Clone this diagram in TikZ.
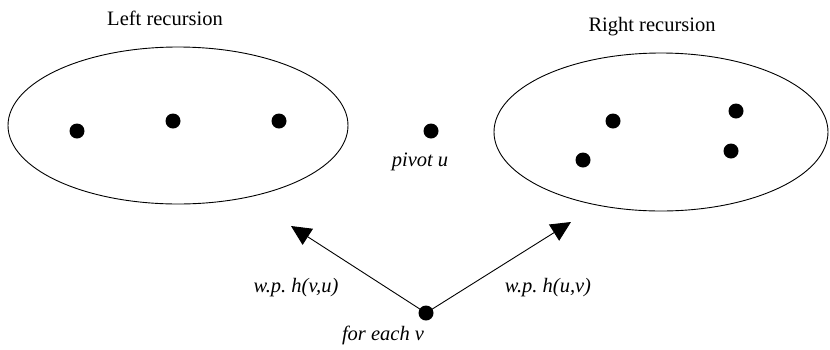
\documentclass[tikz,border=0pt]{standalone}
\usepackage{fontspec}
\setmainfont{Liberation Serif}
\usetikzlibrary{shapes.geometric,arrows.meta}
\frenchspacing
\begin{document}
\begin{tikzpicture}[x=1pt,y=-1pt,
  dot/.style={circle,fill=black,inner sep=0pt,minimum size=15pt},
  setshape/.style={ellipse,draw,line width=0.9pt,inner sep=0pt},
  lbl/.style={font=\fontsize{20.5}{24}\selectfont,inner sep=0pt},
  ilbl/.style={font=\fontsize{20.5}{24}\selectfont\itshape,inner sep=0pt},
  arr/.style={line width=0.9pt,-{Triangle[length=20pt,width=19pt]}}]
\useasboundingbox (0,0) rectangle (830,349);
\node[setshape,minimum width=340pt,minimum height=157pt] (L) at (178,125.5) {};
\node[setshape,minimum width=334pt,minimum height=158pt] (R) at (661,132) {};
\node[lbl] (lt) at (165,18) {Left recursion};
\node[lbl] (rt) at (652,27) {Right recursion};
\node[dot] (l1) at (77,131) {};
\node[dot] (l2) at (173,121) {};
\node[dot] (l3) at (279,121) {};
\node[dot] (p) at (431,131) {};
\node[ilbl] (pt) at (420,162) {pivot u};
\node[dot] (r1) at (613,121) {};
\node[dot] (r2) at (736,111) {};
\node[dot] (r3) at (583,160) {};
\node[dot] (r4) at (731,151) {};
\node[dot] (v) at (426,313) {};
\node[ilbl] (vt) at (383,335) {for each v};
\coordinate (tl) at (291,226);
\coordinate (tr) at (571,222);
\draw[arr] (v.center) -- (tl);
\draw[arr] (v.center) -- (tr);
\node[ilbl] (hl) at (296,288) {w.p. h(v,u)};
\node[ilbl] (hr) at (548,288) {w.p. h(u,v)};
\end{tikzpicture}
\end{document}
